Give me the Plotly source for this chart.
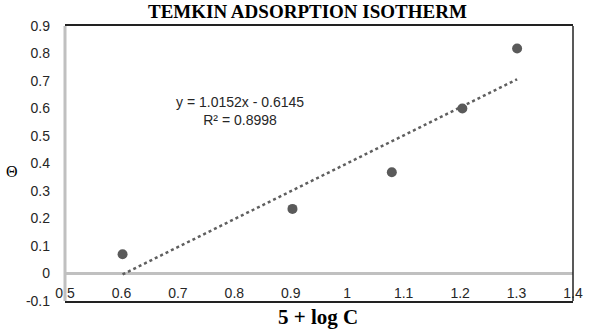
import plotly.graph_objects as go

x_vals = [0.602, 0.903, 1.079, 1.204, 1.301]
theta_vals = [0.07, 0.235, 0.368, 0.600, 0.818]
slope = 1.0152
intercept = -0.6145
trend_x = [0.602, 1.301]
x_ticks = [0.5, 0.6, 0.7, 0.8, 0.9, 1.0, 1.1, 1.2, 1.3, 1.4]
x_ticktext = ["0.5", "0.6", "0.7", "0.8", "0.9", "1", "1.1", "1.2", "1.3", "1.4"]
y_ticks = [-0.1, 0, 0.1, 0.2, 0.3, 0.4, 0.5, 0.6, 0.7, 0.8, 0.9]
y_ticktext = ["-0.1", "0", "0.1", "0.2", "0.3", "0.4", "0.5", "0.6", "0.7", "0.8", "0.9"]

trend_y = [slope * v + intercept for v in trend_x]

fig = go.Figure()
fig.add_trace(go.Scatter(x=trend_x, y=trend_y, mode="lines",
                         line=dict(color="#5f5f5f", width=2.5, dash="dot"),
                         hoverinfo="skip", showlegend=False))
fig.add_trace(go.Scatter(x=x_vals, y=theta_vals, mode="markers",
                         marker=dict(color="#5a5a5a", size=10),
                         showlegend=False))

tick_font = dict(family="Liberation Sans, Arial, sans-serif", size=14, color="#262626")

fig.update_layout(
    width=594, height=329,
    margin=dict(l=65, r=11, t=26, b=28),
    paper_bgcolor="white", plot_bgcolor="white",
    xaxis=dict(range=[0.5, 1.4], tickvals=x_ticks, ticktext=x_ticktext,
               showgrid=False, zeroline=False,
               showline=True, linecolor="#222222", linewidth=1.5, mirror=True,
               ticks="", ticklabelposition="inside", ticklabeloverflow="allow",
               tickfont=tick_font),
    yaxis=dict(range=[-0.1, 0.9], tickvals=y_ticks, ticktext=y_ticktext,
               showgrid=False, zeroline=True, zerolinecolor="#c0c0c0", zerolinewidth=3,
               showline=False, ticks="", ticklabelstandoff=14,
               tickfont=tick_font),
    shapes=[
        dict(type="line", xref="paper", yref="paper", x0=1, x1=1, y0=0, y1=1,
             line=dict(color="#222222", width=1.5)),
        dict(type="line", xref="paper", yref="paper", x0=0, x1=0, y0=0, y1=1,
             line=dict(color="#c0c0c0", width=3)),
    ],
    annotations=[
        dict(text="<b>TEMKIN ADSORPTION ISOTHERM</b>", xref="paper", yref="paper",
             x=0.477, y=1, yanchor="bottom", xanchor="center", showarrow=False,
             yshift=2,
             font=dict(family="Liberation Serif, Times New Roman, serif", size=19, color="black")),
        dict(text="<b>5 + log C</b>", xref="paper", yref="paper",
             x=0.498, y=0, yanchor="top", xanchor="center", showarrow=False,
             yshift=-2,
             font=dict(family="Liberation Serif, Times New Roman, serif", size=21, color="black")),
        dict(text="Θ", xref="paper", yref="paper", x=-0.105, y=0.5, xanchor="center",
             yanchor="middle", showarrow=False, yshift=-8,
             font=dict(family="Liberation Serif, serif", size=16, color="black")),
        dict(text="y = 1.0152x - 0.6145<br>R² = 0.8998", xref="x", yref="y",
             x=0.81, y=0.59, xanchor="center", yanchor="middle", showarrow=False,
             font=dict(family="Liberation Sans, Arial, sans-serif", size=14, color="#262626")),
    ],
)

fig.write_html("out.html")
